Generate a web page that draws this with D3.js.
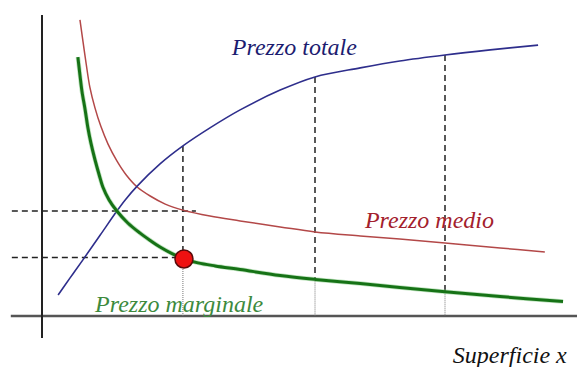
<!DOCTYPE html>
<html>
<head>
<meta charset="utf-8">
<script src="https://cdn.jsdelivr.net/npm/d3@7"></script>
<style>
  body { margin: 0; background: #fff; }
</style>
</head>
<body>
<div id="vis"></div>
<script>
var w = 577,
    h = 367;

// curves: [superficie, prezzo]
var prezzoTotale = [[0.31,0.70],[0.54,1.27],[0.79,1.88],[1.12,2.70],[1.44,3.50],[1.60,3.87],[1.83,4.33],
    [2.27,5.07],[2.71,5.67],[3.23,6.27],[3.81,6.87],[4.58,7.53],[5.25,7.97],[6.12,8.27],[6.88,8.50],
    [7.75,8.70],[8.62,8.87],[9.54,9.03]];
var prezzoMedio = [[0.73,9.87],[0.79,9.13],[0.85,8.40],[0.92,7.63],[1.02,6.93],[1.13,6.33],[1.27,5.73],
    [1.44,5.17],[1.62,4.70],[1.83,4.30],[2.08,4.00],[2.37,3.73],[2.71,3.53],[3.23,3.33],[3.81,3.17],
    [4.58,2.97],[5.25,2.80],[6.12,2.67],[6.88,2.57],[7.75,2.43],[8.81,2.27],[9.67,2.13]];
var prezzoMarginale = [[0.69,8.63],[0.73,8.03],[0.77,7.47],[0.83,6.87],[0.88,6.30],[0.94,5.77],[1.02,5.20],
    [1.10,4.70],[1.17,4.30],[1.29,3.87],[1.44,3.50],[1.65,3.10],[1.88,2.77],[2.08,2.52],[2.27,2.30],
    [2.50,2.08],[2.73,1.90],[3.00,1.77],[3.33,1.67],[3.81,1.55],[4.58,1.35],[5.25,1.22],[6.12,1.08],
    [6.88,0.95],[7.75,0.81],[8.81,0.65],[10.02,0.48]];

// guide lines: vertical at x (from marginale value up to totale value), horizontal at y up to x
var vGuides = [[2.71,1.90,5.67],[5.25,1.22,7.97],[7.75,0.81,8.70]];
var hGuides = [[3.50,2.96],[1.95,2.73]];
var punto = [2.73,1.90];

var x = d3.scaleLinear().domain([0,10]).range([42,562]);
var y = d3.scaleLinear().domain([0,10]).range([316,16]);

var svg = d3.select("#vis").append("svg")
    .attr("width", w)
    .attr("height", h);

// axes (no ticks)
svg.append("line")
    .attr("x1", x(-0.6)).attr("x2", x(10.3))
    .attr("y1", y(0)).attr("y2", y(0))
    .style("stroke", "#555").style("stroke-width", 2.5);
svg.append("line")
    .attr("x1", x(0)).attr("x2", x(0))
    .attr("y1", y(10.03)).attr("y2", y(-0.73))
    .style("stroke", "#222").style("stroke-width", 2);

// guides
svg.selectAll("line.vdash").data(vGuides).enter().append("line")
    .attr("class","vdash")
    .attr("x1", function(d){ return x(d[0]); }).attr("x2", function(d){ return x(d[0]); })
    .attr("y1", function(d){ return y(d[2]); }).attr("y2", function(d){ return y(d[1]); })
    .style("stroke","#222").style("stroke-width",1.5).style("stroke-dasharray","6,4");
svg.selectAll("line.vdot").data(vGuides).enter().append("line")
    .attr("class","vdot")
    .attr("x1", function(d){ return x(d[0]); }).attr("x2", function(d){ return x(d[0]); })
    .attr("y1", function(d){ return y(d[1]); }).attr("y2", y(0))
    .style("stroke","#777").style("stroke-width",1).style("stroke-dasharray","1,1");
svg.selectAll("line.hdash").data(hGuides).enter().append("line")
    .attr("class","hdash")
    .attr("x1", x(-0.58)).attr("x2", function(d){ return x(d[1]); })
    .attr("y1", function(d){ return y(d[0]); }).attr("y2", function(d){ return y(d[0]); })
    .style("stroke","#222").style("stroke-width",1.5).style("stroke-dasharray","6,4");

var line = d3.line()
    .x(function(d){ return x(d[0]); })
    .y(function(d){ return y(d[1]); })
    .curve(d3.curveCatmullRom);

svg.append("path").datum(prezzoMedio)
    .attr("d", line)
    .style("fill","none").style("stroke","#b34848").style("stroke-width",1.5);
svg.append("path").datum(prezzoTotale)
    .attr("d", line)
    .style("fill","none").style("stroke","#2e2e8c").style("stroke-width",1.6);
svg.append("path").datum(prezzoMarginale)
    .attr("d", line)
    .style("fill","none").style("stroke","#7fc97f").style("stroke-width",4.5).style("opacity",0.5);
svg.append("path").datum(prezzoMarginale)
    .attr("d", line)
    .style("fill","none").style("stroke","#167216").style("stroke-width",3);

svg.append("circle")
    .attr("cx", x(punto[0])).attr("cy", y(punto[1])).attr("r", 9)
    .style("fill","#ee1111").style("stroke","#5a0a0a").style("stroke-width",1.5);

// labels
var labels = [
    {t:"Prezzo totale", x:3.65, y:8.7, c:"#1c1c70"},
    {t:"Prezzo medio", x:6.21, y:2.93, c:"#a3202c"},
    {t:"Prezzo marginale", x:1.02, y:0.13, c:"#3d8a3d"},
    {t:"Superficie x", x:7.9, y:-1.57, c:"#111"}
];
svg.selectAll("text.lab").data(labels).enter().append("text")
    .attr("class","lab")
    .attr("x", function(d){ return x(d.x); })
    .attr("y", function(d){ return y(d.y); })
    .attr("font-family", "'Liberation Serif', 'Times New Roman', Times, serif")
    .attr("font-style", "italic")
    .attr("font-size", 24)
    .style("fill", function(d){ return d.c; })
    .text(function(d){ return d.t; });
</script>
</body>
</html>
